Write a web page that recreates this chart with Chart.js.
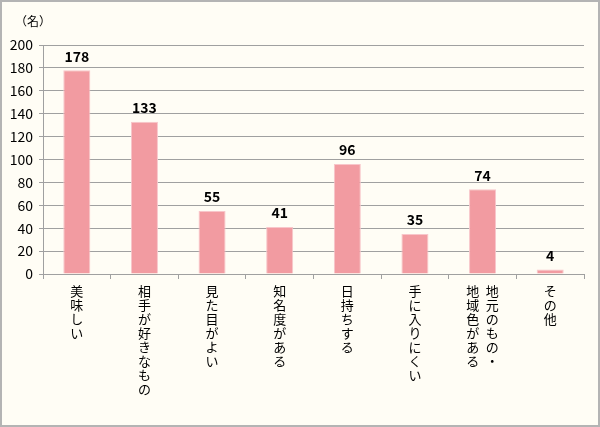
<!DOCTYPE html>
<html>
<head>
<meta charset="utf-8">
<script src="https://cdn.jsdelivr.net/npm/chart.js@4/dist/chart.umd.min.js"></script>
<style>
  html, body { margin: 0; padding: 0; background: #fff; }
  #wrap { position: relative; width: 596px; height: 423px; border: 2px solid #b4b4b4; background: #fffdf5; }
  canvas { display: block; }
</style>
</head>
<body>
<div id="wrap"><canvas id="barCanvas" width="596" height="423"></canvas></div>
<script>
// categories (vertical text, one char per line; two-column label joined per line)
var categories = [
    ["美","味","し","い"],
    ["相","手","が","好","き","な","も","の"],
    ["見","た","目","が","よ","い"],
    ["知","名","度","が","あ","る"],
    ["日","持","ち","す","る"],
    ["手","に","入","り","に","く","い"],
    ["地\u2002地","域\u2002元","色\u2002の","が\u2002も","あ\u2002の","る\u2002・"],
    ["そ","の","他"]
];
var counts = [178, 133, 55, 41, 96, 35, 74, 4];
var yTicks = [0, 20, 40, 60, 80, 100, 120, 140, 160, 180, 200];
var unitLabel = "（名）";

var jpFont = "'Noto Sans CJK JP', 'Noto Sans', sans-serif";

var labelPlugin = {
    id: 'labelPlugin',
    afterDatasetsDraw: function(chart){
        var ctx = chart.ctx;
        var meta = chart.getDatasetMeta(0);
        ctx.save();
        ctx.fillStyle = '#000';
        ctx.font = "bold 14px " + jpFont;
        ctx.textAlign = 'center';
        ctx.textBaseline = 'bottom';
        meta.data.forEach(function(bar, i){
            ctx.fillText(String(counts[i]), bar.x, bar.y - 7);
        });
        ctx.font = "12px " + jpFont;
        ctx.textAlign = 'left';
        ctx.textBaseline = 'middle';
        ctx.fillText(unitLabel, 13, 19);
        ctx.restore();
    }
};

var config = {
    type: 'bar',
    data: {
        labels: categories,
        datasets: [{
            data: counts,
            backgroundColor: '#f29ba1',
            borderColor: '#f8c6ca',
            borderWidth: 1,
            barPercentage: 0.4,
            categoryPercentage: 1.0
        }]
    },
    options: {
        responsive: false,
        animation: false,
        layout: { padding: { top: 43, right: 14, bottom: 0, left: 0 } },
        plugins: {
            legend: { display: false },
            tooltip: { enabled: false }
        },
        scales: {
            x: {
                grid: { offset: true, drawOnChartArea: false, drawTicks: true, tickLength: 5, color: '#a0a0a0' },
                border: { color: '#a0a0a0' },
                ticks: {
                    color: '#000',
                    maxRotation: 0,
                    autoSkip: false,
                    padding: 5,
                    font: { family: jpFont, size: 13, lineHeight: 1.08 }
                },
                afterFit: function(s){ s.height = 151; }
            },
            y: {
                min: 0,
                max: 200,
                afterBuildTicks: function(s){ s.ticks = yTicks.map(function(v){ return { value: v }; }); },
                grid: { color: '#a0a0a0', tickLength: 4 },
                border: { color: '#a0a0a0' },
                ticks: {
                    color: '#000',
                    padding: 6,
                    font: { family: jpFont, size: 14 }
                },
                afterFit: function(s){ s.width = 41; }
            }
        }
    },
    plugins: [labelPlugin]
};

new Chart(document.getElementById('barCanvas'), config);
</script>
</body>
</html>
